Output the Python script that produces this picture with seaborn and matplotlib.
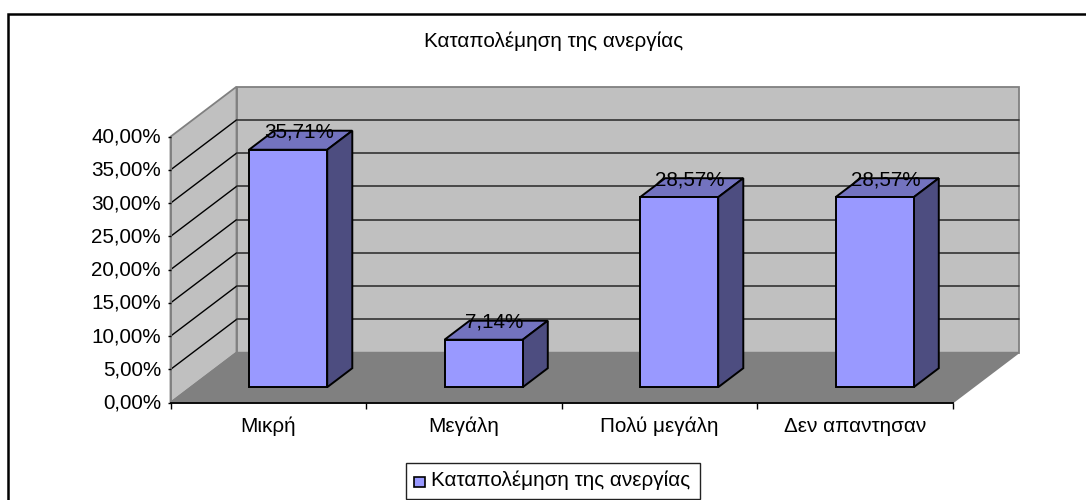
import matplotlib
matplotlib.use("Agg")
import matplotlib.pyplot as plt
from matplotlib.patches import Polygon, Rectangle
from matplotlib.transforms import ScaledTranslation
import seaborn as sns
import pandas as pd

sns.set_theme(style="white")
plt.rcParams['font.family'] = ['Liberation Sans', 'DejaVu Sans']

categories = ["Μικρή", "Μεγάλη", "Πολύ μεγάλη", "Δεν απαντησαν"]
values = [35.71, 7.14, 28.57, 28.57]
value_labels = ["35,71%", "7,14%", "28,57%", "28,57%"]
y_ticks = [0, 5, 10, 15, 20, 25, 30, 35, 40]
y_tick_labels = ["0,00%", "5,00%", "10,00%", "15,00%", "20,00%", "25,00%", "30,00%", "35,00%", "40,00%"]
title = "Καταπολέμηση της ανεργίας"

W, H = 1086, 500
FS = 14.9
fig = plt.figure(figsize=(W / 100, H / 100), dpi=100, facecolor="white")
L, R, B, T = 170.5, 952.5, 402.7, 136.7
ax = fig.add_axes([L / W, 1 - B / H, (R - L) / W, (B - T) / H])
df = pd.DataFrame({"cat": categories, "val": values})
sns.barplot(data=df, x="cat", y="val", ax=ax, width=0.4, color="#9999FF", saturation=1,
            edgecolor="black", linewidth=1.4, errorbar=None, zorder=5)
ax.set_xlim(-0.5, 3.5)
ax.set_ylim(0, 40)
ax.set_xlabel("")
ax.set_ylabel("")

# depth vector of the chart box in data units
PX = (R - L) / 4
PY = (B - T) / 40
DX = 66 / PX
DY = 50 / PY
def P(x, y, d=0.0):
    return (x + DX * d, y + DY * d)

wall = "#C0C0C0"
floor = "#808080"
edge = "#808080"
def poly(pts, fc, ec, lw=1.3, z=1):
    ax.add_patch(Polygon(pts, closed=True, fc=fc, ec=ec, lw=lw, zorder=z, clip_on=False))

x0, x1 = -0.5, 3.5
bars = [p for p in ax.patches if isinstance(p, Rectangle)]

poly([P(x0, 0, 1), P(x1, 0, 1), P(x1, 40, 1), P(x0, 40, 1)], wall, edge)
poly([P(x0, 0, 0), P(x0, 0, 1), P(x0, 40, 1), P(x0, 40, 0)], wall, edge)
poly([P(x0, 0, 0), P(x1, 0, 0), P(x1, 0, 1), P(x0, 0, 1)], floor, floor)

for t in y_ticks[1:-1]:
    ax.plot(*zip(P(x0, t, 0), P(x0, t, 1)), color="black", lw=1.0, zorder=2, clip_on=False)
    ax.plot(*zip(P(x0, t, 1), P(x1, t, 1)), color="#333333", lw=1.2, zorder=2, clip_on=False)

# 3D bar faces, built from the bars seaborn drew
d0, d1 = 0.31, 0.69
shift = -0.6 / PX
for bar, lab in zip(bars, value_labels):
    bx, bw, bh = bar.get_x(), bar.get_width(), bar.get_height()
    a, b = bx + shift, bx + bw + shift
    poly([P(a, bh, d0), P(b, bh, d0), P(b, bh, d1), P(a, bh, d1)], "#7373BF", "black", 1.4, 4)
    poly([P(b, 0, d0), P(b, 0, d1), P(b, bh, d1), P(b, bh, d0)], "#4D4D80", "black", 1.4, 4)
    bar.set_xy(P(a, 0, d0))
    ax.text(P(a + bw / 2 + 11 / PX, 0, d0)[0], P(0, bh - 1.5 / PY, d1)[1], lab, ha="center", va="center",
            fontsize=FS, color="black", zorder=7, clip_on=False)

ax.set_yticks(y_ticks)
ax.set_yticklabels(y_tick_labels, fontsize=FS, color="black")
ax.set_xticks([-0.5, 0.5, 1.5, 2.5, 3.5], minor=False)
ax.set_xticklabels([""] * 5)
ax.tick_params(axis="y", length=2.5, width=1.0, color="black", left=True, pad=4.4)
ax.tick_params(axis="x", length=4, width=1.0, color="black", bottom=True)
lift = ScaledTranslation(0, 1.5 / 100, fig.dpi_scale_trans)
for tick in ax.yaxis.get_major_ticks():
    tick.label1.set_transform(tick.label1.get_transform() + lift)
for i, c in enumerate(categories):
    ax.text(i, -3.6, c, ha="center", va="center", fontsize=FS, color="black")
for s in ["top", "right"]:
    ax.spines[s].set_visible(False)
ax.spines["bottom"].set_color("black")
ax.spines["bottom"].set_linewidth(1.3)
ax.spines["bottom"].set_zorder(3)
ax.spines["left"].set_color("#808080")
ax.spines["left"].set_linewidth(1.3)
ax.set_axisbelow(False)

fig.text(554 / W, 1 - 41 / H, title, ha="center", va="center", fontsize=FS, color="black")

# outer frame
fig.add_artist(Rectangle((8 / W, 1 - 520 / H), 1100 / W, 506 / H, transform=fig.transFigure,
                         fill=False, ec="black", lw=1.8, clip_on=True))

# legend
fig.add_artist(Rectangle((405.5 / W, 1 - 499 / H), 294 / W, 36 / H, transform=fig.transFigure,
                         fc="white", ec="#222222", lw=1.0))
fig.add_artist(Rectangle((413.5 / W, 1 - 487 / H), 11 / W, 10.5 / H, transform=fig.transFigure,
                         fc="#9999FF", ec="black", lw=1.2))
fig.text(431 / W, 1 - 480 / H, title, ha="left", va="center", fontsize=FS, color="black")

fig.savefig("out.png", dpi=100)
